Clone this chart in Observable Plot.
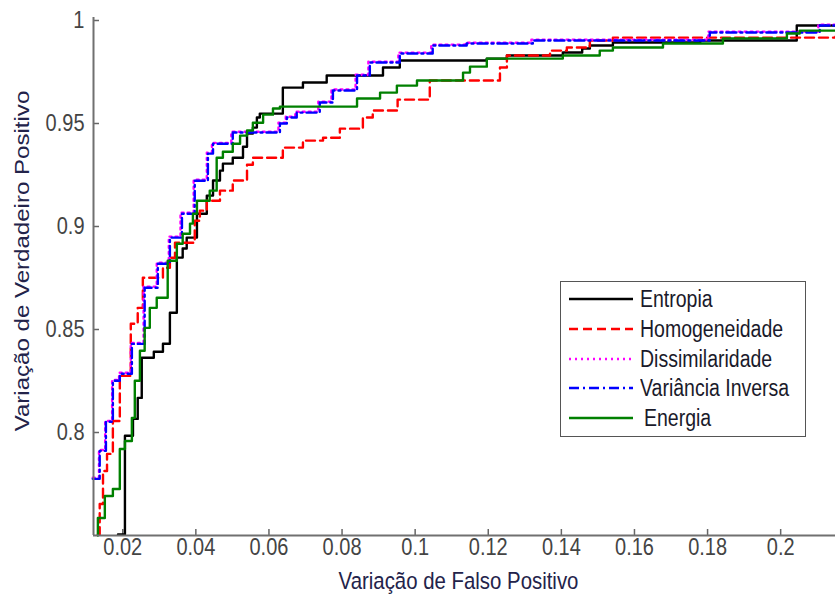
<!DOCTYPE html>
<html><head><meta charset="utf-8">
<script src="https://cdn.jsdelivr.net/npm/d3@7"></script>
<script src="https://cdn.jsdelivr.net/npm/@observablehq/plot@0.6"></script>
<style>
body{margin:0;background:#fff;}
#wrap{position:relative;width:835px;height:598px;font-family:"Liberation Sans",Arial,sans-serif;}
#legend{position:absolute;left:560px;top:281px;width:246px;height:156px;border:1.5px solid #555;background:#fff;box-sizing:border-box;}
.row{position:absolute;left:7px;height:24px;display:flex;align-items:center;font-size:19.5px;color:#1a1a2a;white-space:nowrap;}
.row svg{margin-right:6px;}
.row span{display:inline-block;transform:scaleY(1.18);}
</style></head><body><div id="wrap"></div>
<script>
const seriesNames = ["Entropia","Homogeneidade","Dissimilaridade","Variância Inversa","Energia"];
const seriesColors = ["#000000","#ff0000","#ff00ff","#0000ff","#008000"];
const seriesDash = [null,"9,5","2,4","10,4,2,4",null];
const xTicks = [0.02,0.04,0.06,0.08,0.1,0.12,0.14,0.16,0.18,0.2];
const yTicks = [0.8,0.85,0.9,0.95,1];
const xLabel = "Variação de Falso Positivo";
const yLabel = "Variação de Verdadeiro Positivo";

const entropia = [[0.0187,0.7505],[0.0206,0.7984],[0.0228,0.8066],[0.0241,0.8168],[0.0252,0.8363],[0.0285,0.8392],[0.0310,0.8431],[0.0329,0.8581],[0.0348,0.8849],[0.0364,0.8893],[0.0375,0.8946],[0.0403,0.9062],[0.0430,0.9150],[0.0447,0.9223],[0.0466,0.9271],[0.0474,0.9305],[0.0501,0.9334],[0.0529,0.9387],[0.0540,0.9451],[0.0556,0.9480],[0.0567,0.9529],[0.0575,0.9548],[0.0638,0.9674],[0.0693,0.9699],[0.0758,0.9733],[0.0912,0.9772],[0.0958,0.9806],[0.1196,0.9815],[0.1251,0.9830],[0.1404,0.9845],[0.1457,0.9864],[0.1478,0.9879],[0.1541,0.9893],[0.1780,0.9903],[0.2044,0.9976],[0.2150,0.9976]];
const homogeneidade = [[0.0132,0.7505],[0.0137,0.7653],[0.0146,0.7813],[0.0157,0.7896],[0.0173,0.8056],[0.0192,0.8275],[0.0222,0.8528],[0.0241,0.8605],[0.0255,0.8751],[0.0310,0.8800],[0.0329,0.8848],[0.0343,0.8921],[0.0397,0.9028],[0.0411,0.9077],[0.0430,0.9125],[0.0466,0.9174],[0.0501,0.9223],[0.0540,0.9300],[0.0556,0.9334],[0.0638,0.9383],[0.0693,0.9417],[0.0748,0.9431],[0.0794,0.9475],[0.0857,0.9529],[0.0884,0.9563],[0.0952,0.9616],[0.1040,0.9709],[0.1232,0.9772],[0.1251,0.9830],[0.1369,0.9854],[0.1415,0.9869],[0.1478,0.9903],[0.1541,0.9917],[0.2150,0.9922]];
const dissimilaridade = [[0.0118,0.7780],[0.0135,0.7915],[0.0152,0.8056],[0.0171,0.8255],[0.0190,0.8290],[0.0222,0.8435],[0.0257,0.8708],[0.0293,0.8824],[0.0326,0.8951],[0.0358,0.9067],[0.0394,0.9227],[0.0430,0.9358],[0.0444,0.9406],[0.0497,0.9460],[0.0626,0.9504],[0.0646,0.9533],[0.0672,0.9557],[0.0735,0.9606],[0.0771,0.9665],[0.0837,0.9737],[0.0872,0.9800],[0.0954,0.9844],[0.1044,0.9883],[0.1137,0.9892],[0.1318,0.9907],[0.1802,0.9946],[0.2103,0.9980],[0.2150,0.9980]];
const variancia = [[0.0118,0.7775],[0.0137,0.7911],[0.0154,0.8052],[0.0173,0.8251],[0.0192,0.8285],[0.0225,0.8430],[0.0260,0.8703],[0.0296,0.8819],[0.0329,0.8946],[0.0362,0.9062],[0.0397,0.9222],[0.0433,0.9354],[0.0447,0.9402],[0.0501,0.9456],[0.0630,0.9500],[0.0649,0.9529],[0.0676,0.9553],[0.0739,0.9602],[0.0775,0.9660],[0.0841,0.9733],[0.0876,0.9796],[0.0958,0.9840],[0.1048,0.9879],[0.1141,0.9888],[0.1322,0.9903],[0.1806,0.9942],[0.2107,0.9976],[0.2150,0.9976]];
const energia = [[0.0132,0.7500],[0.0132,0.7585],[0.0151,0.7692],[0.0173,0.7726],[0.0192,0.7920],[0.0206,0.7959],[0.0225,0.8071],[0.0233,0.8251],[0.0247,0.8397],[0.0260,0.8508],[0.0274,0.8605],[0.0293,0.8654],[0.0323,0.8834],[0.0348,0.8916],[0.0364,0.8965],[0.0384,0.9014],[0.0392,0.9062],[0.0403,0.9125],[0.0438,0.9174],[0.0457,0.9334],[0.0474,0.9363],[0.0501,0.9402],[0.0521,0.9441],[0.0540,0.9466],[0.0556,0.9504],[0.0584,0.9543],[0.0611,0.9573],[0.0630,0.9582],[0.0841,0.9621],[0.0904,0.9650],[0.0950,0.9684],[0.1005,0.9709],[0.1131,0.9747],[0.1150,0.9776],[0.1196,0.9815],[0.1404,0.9830],[0.1505,0.9854],[0.1541,0.9869],[0.1678,0.9888],[0.1842,0.9913],[0.2017,0.9937],[0.2052,0.9951],[0.2150,0.9951]];
const seriesData = [entropia, homogeneidade, dissimilaridade, variancia, energia];

const W = 835, H = 598, mL = 93, mR = 0, mT = 20, mB = 63;
const xDomain = [0.012, 0.215], yDomain = [0.75, 1];
const plotW = W - mL - mR, plotH = H - mT - mB;
const stretch = 1.18;
const fmt = d => String(+d.toFixed(3));

const lineMarks = seriesData.map((data, i) => Plot.line(data, {
  x: d => d[0], y: d => d[1], curve: "step-after",
  stroke: seriesColors[i], strokeWidth: 2.4,
  strokeDasharray: seriesDash[i] || undefined
}));

const chart = Plot.plot({
  width: W, height: H, marginLeft: mL, marginRight: mR, marginTop: mT, marginBottom: mB,
  x: {domain: xDomain}, y: {domain: yDomain},
  style: {fontFamily: "'Liberation Sans', Arial, sans-serif", fontSize: "20px", background: "white", overflow: "visible"},
  marks: [
    Plot.axisX({ticks: xTicks, tickSize: 0, tickPadding: 3, tickFormat: fmt, fill: "#444", label: null, fontSize: 20}),
    Plot.axisY({ticks: yTicks, tickSize: 0, tickPadding: 9, tickFormat: fmt, fill: "#444", label: null, fontSize: 20}),
    Plot.tickX(xTicks, {x: d => d, insetTop: plotH - 6, stroke: "#666", strokeWidth: 1.5}),
    Plot.tickY(yTicks, {y: d => d, insetRight: plotW - 6, stroke: "#666", strokeWidth: 1.5}),
    ...lineMarks,
    Plot.ruleX([xDomain[0]], {stroke: "#707070", strokeWidth: 2, insetTop: -3}),
    Plot.ruleY([yDomain[0]], {stroke: "#707070", strokeWidth: 2}),
    Plot.text([xLabel], {frameAnchor: "bottom", dy: 53, dx: -6, fill: "#23234a", fontSize: 20.4}),
    Plot.text([yLabel], {frameAnchor: "left", textAnchor: "middle", dx: -71, dy: -17, rotate: -90, fill: "#23234a", fontSize: 20.4})
  ]
});
// reproduce the reference's vertical stretch of lettering
chart.querySelectorAll("text").forEach(t => {
  const tr = t.getAttribute("transform") || "";
  if (!tr) return;
  t.setAttribute("transform", tr + (/rotate/.test(tr) ? ` scale(${stretch},1)` : ` scale(1,${stretch})`));
});
const wrap = document.getElementById("wrap");
wrap.appendChild(chart);

const legend = document.createElement("div");
legend.id = "legend";
const rowTops = [17, 47, 77, 106, 136];
seriesNames.forEach((name, i) => {
  const row = document.createElement("div");
  row.className = "row";
  row.style.top = (rowTops[i] - 12) + "px";
  const dash = seriesDash[i] ? `stroke-dasharray="${seriesDash[i]}"` : "";
  row.innerHTML = `<svg width="66" height="6"><line x1="1" y1="3" x2="65" y2="3" stroke="${seriesColors[i]}" stroke-width="2.4" ${dash}/></svg><span${i===4?' style="margin-left:4px"':''}>${name}</span>`;
  legend.appendChild(row);
});
wrap.appendChild(legend);
</script></body></html>
